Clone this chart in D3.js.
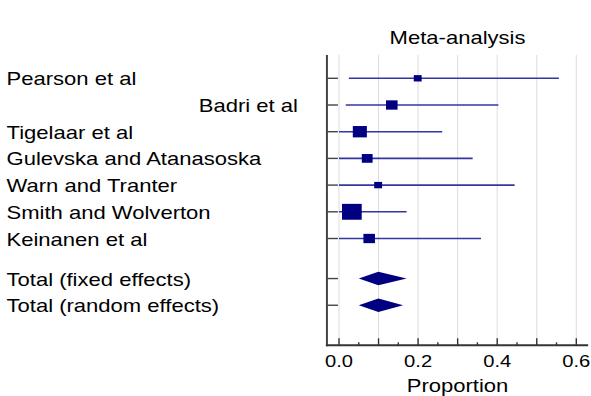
<!DOCTYPE html>
<html>
<head>
<meta charset="utf-8">
<script src="https://cdn.jsdelivr.net/npm/d3@7/dist/d3.min.js"></script>
<style>
  html, body { margin: 0; padding: 0; background: #fff; }
  svg { display: block; }
  text { font-family: "Liberation Sans", Arial, sans-serif; fill: #000; }
</style>
</head>
<body>
<svg id="chart" width="591" height="396"></svg>
<script>
// Studies and pooled estimates (proportion with 95% CI)
const studies = ["Pearson et al", "Badri et al", "Tigelaar et al", "Gulevska and Atanasoska",
                 "Warn and Tranter", "Smith and Wolverton", "Keinanen et al"];
const estimate = [0.199, 0.1335, 0.0527, 0.0713, 0.099, 0.0325, 0.0763];
const lower    = [0.025, 0.017, 0.0, 0.0, 0.0, 0.0, 0.0];
const upper    = [0.556, 0.403, 0.261, 0.338, 0.444, 0.171, 0.359];
const weight   = [5.7, 12.2, 18.1, 10.7, 5.7, 35.5, 12.2];   // % weight (marker size)

const pooled      = ["Total (fixed effects)", "Total (random effects)"];
const pooledEst   = [0.0995, 0.0995];
const pooledLower = [0.050, 0.050];
const pooledUpper = [0.171, 0.162];

const xTicks = [0.0, 0.2, 0.4, 0.6];

(function () {
  const svg = d3.select("#chart");
  const stretch = 1.26;          // horizontal text stretch
  const fontSize = 17.5;

  // Row positions: studies 0..6, pooled rows after a gap
  const studyRows = studies.map((d, i) => i);
  const pooledRows = [7.5, 8.5];

  const x = d3.scaleLinear().domain([0, 0.6]).range([339, 576.3]);
  const y = d3.scaleLinear().domain([0, 1]).range([78.3, 105]);

  const plotLeft = x(-0.0305), plotRight = x(0.63);
  const plotTop = y(-0.875), plotBottom = y(10);

  // Gridlines at every 0.1
  const grid = d3.range(0, 0.61, 0.1);
  svg.append("g").selectAll("line").data(grid).join("line")
    .attr("x1", d => x(d)).attr("x2", d => x(d))
    .attr("y1", plotTop).attr("y2", plotBottom)
    .attr("stroke", "#dcdcdc").attr("stroke-width", 1);

  // Confidence interval lines
  svg.append("g").selectAll("line").data(studies).join("line")
    .attr("x1", (d, i) => x(lower[i])).attr("x2", (d, i) => x(upper[i]))
    .attr("y1", (d, i) => y(studyRows[i])).attr("y2", (d, i) => y(studyRows[i]))
    .attr("stroke", "#3535a5").attr("stroke-width", 1.6);

  // Weighted markers
  const size = d3.scaleSqrt().domain([0, d3.max(weight)]).range([0, 19.7]);
  svg.append("g").selectAll("rect").data(studies).join("rect")
    .attr("x", (d, i) => x(estimate[i]) - size(weight[i]) / 2)
    .attr("y", (d, i) => y(studyRows[i]) - size(weight[i]) / 1.24 / 2)
    .attr("width", (d, i) => size(weight[i]))
    .attr("height", (d, i) => size(weight[i]) / 1.24)
    .attr("fill", "#000080");

  // Pooled diamonds
  svg.append("g").selectAll("path").data(pooled).join("path")
    .attr("d", (d, i) => {
      const cy = y(pooledRows[i]), h = 6.7;
      return `M${x(pooledLower[i])},${cy}L${x(pooledEst[i])},${cy - h}L${x(pooledUpper[i])},${cy}L${x(pooledEst[i])},${cy + h}Z`;
    })
    .attr("fill", "#000080");

  // Left axis with row ticks
  svg.append("line").attr("x1", plotLeft).attr("x2", plotLeft).attr("y1", plotTop).attr("y2", plotBottom + 1)
    .attr("stroke", "#444").attr("stroke-width", 2);
  svg.append("g").selectAll("line").data(studyRows.concat(pooledRows)).join("line")
    .attr("x1", plotLeft).attr("x2", plotLeft + 11)
    .attr("y1", d => y(d)).attr("y2", d => y(d))
    .attr("stroke", "#444").attr("stroke-width", 1.4);

  // Bottom axis with inward ticks
  svg.append("line").attr("x1", plotLeft - 1).attr("x2", plotRight).attr("y1", plotBottom).attr("y2", plotBottom)
    .attr("stroke", "#333").attr("stroke-width", 2);
  const minor = d3.range(0, 0.61, 0.05);
  svg.append("g").selectAll("line").data(minor).join("line")
    .attr("x1", d => x(d)).attr("x2", d => x(d))
    .attr("y1", plotBottom).attr("y2", (d, i) => i % 2 === 0 ? plotBottom - 7 : plotBottom - 3)
    .attr("stroke", "#333").attr("stroke-width", 1.4);

  function label(g, txt, tx, ty, anchor, fs) {
    g.append("text")
      .attr("transform", `translate(${tx},${ty}) scale(${stretch},1)`)
      .attr("text-anchor", anchor)
      .attr("font-size", fs)
      .text(txt);
  }

  const labels = svg.append("g");
  studies.forEach((s, i) => {
    if (i === 1) label(labels, s, 298, y(studyRows[i]) + 7, "end", fontSize);
    else label(labels, s, 6.5, y(studyRows[i]) + 7, "start", fontSize);
  });
  pooled.forEach((s, i) => label(labels, s, 6.5, y(pooledRows[i]) + 7, "start", fontSize));

  // Tick labels
  xTicks.forEach(t => label(labels, d3.format(".1f")(t), x(t), 367.3, "middle", 16));

  // Title and axis title
  label(labels, "Meta-analysis", (plotLeft + plotRight) / 2, 44.3, "middle", fontSize);
  label(labels, "Proportion", (plotLeft + plotRight) / 2, 392, "middle", fontSize);
})();
</script>
</body>
</html>
